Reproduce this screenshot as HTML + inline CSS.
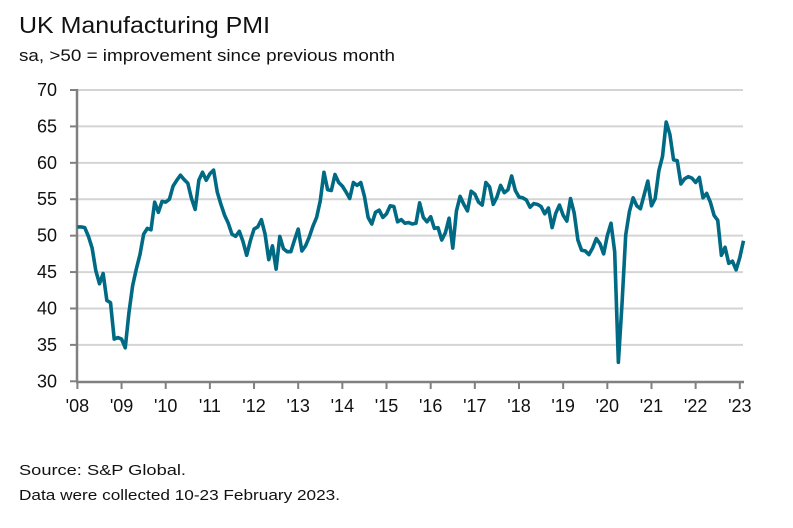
<!DOCTYPE html>
<html><head><meta charset="utf-8"><style>
body{margin:0;background:#fff;font-family:"Liberation Sans",sans-serif;}
</style></head><body>
<svg width="793" height="523" xmlns="http://www.w3.org/2000/svg">
<text x="19" y="33" font-size="23" textLength="251" lengthAdjust="spacingAndGlyphs" fill="#111" font-family="Liberation Sans, sans-serif">UK Manufacturing PMI</text>
<text x="19" y="61" font-size="17" textLength="376" lengthAdjust="spacingAndGlyphs" fill="#111" font-family="Liberation Sans, sans-serif">sa, &gt;50 = improvement since previous month</text>
<g id="grid"></g>
<g id="axes"></g>
<path id="line" fill="none" stroke="#006a85" stroke-width="3.6" stroke-linejoin="round"/>
<text x="19" y="475" font-size="15" textLength="167" lengthAdjust="spacingAndGlyphs" fill="#111" font-family="Liberation Sans, sans-serif">Source: S&amp;P Global.</text>
<text x="19" y="500" font-size="15" textLength="321" lengthAdjust="spacingAndGlyphs" fill="#111" font-family="Liberation Sans, sans-serif">Data were collected 10-23 February 2023.</text>
</svg>
<script>
const yTicks=[30,35,40,45,50,55,60,65,70];
const xLabels=["'08","'09","'10","'11","'12","'13","'14","'15","'16","'17","'18","'19","'20","'21","'22","'23"];
const startYear=2008;
const pmi2008=[51.2,51.2,51.1,49.9,48.3,45.2,43.4,44.8,41.1,40.8,35.8,36.0];
const pmi2009=[35.8,34.6,39.4,43.1,45.4,47.4,50.2,51.0,50.8,54.6,53.2,54.7];
const pmi2010=[54.6,55.0,56.8,57.6,58.3,57.7,57.2,55.1,53.6,57.6,58.7,57.6];
const pmi2011=[58.5,59.0,56.0,54.3,52.8,51.7,50.2,49.9,50.6,49.2,47.3,49.3];
const pmi2012=[50.9,51.2,52.2,50.2,46.7,48.6,45.4,49.9,48.2,47.8,47.8,49.4];
const pmi2013=[50.9,47.9,48.6,49.8,51.3,52.5,54.8,58.7,56.3,56.2,58.4,57.3];
const pmi2014=[56.8,56.0,55.1,57.3,56.9,57.3,55.4,52.5,51.6,53.2,53.5,52.5];
const pmi2015=[53.0,54.1,54.0,51.9,52.2,51.7,51.8,51.6,51.7,54.5,52.5,51.9];
const pmi2016=[52.6,51.0,51.1,49.4,50.4,52.4,48.3,53.4,55.4,54.3,53.4,56.1];
const pmi2017=[55.7,54.6,54.2,57.3,56.7,54.3,55.3,56.9,55.9,56.3,58.2,56.2];
const pmi2018=[55.3,55.2,54.9,53.9,54.4,54.3,54.0,53.0,53.8,51.1,53.1,54.2];
const pmi2019=[52.8,52.0,55.1,53.1,49.4,48.0,47.9,47.4,48.3,49.6,48.9,47.5];
const pmi2020=[50.0,51.7,47.8,32.6,40.7,50.1,53.3,55.2,54.1,53.7,55.6,57.5];
const pmi2021=[54.1,55.1,58.9,60.9,65.6,63.9,60.4,60.3,57.1,57.8,58.1,57.9];
const pmi2022=[57.3,58.0,55.2,55.8,54.6,52.8,52.1,47.3,48.4,46.2,46.5,45.3];
const pmi2023=[47.0,49.3];
const values=[].concat(pmi2008,pmi2009,pmi2010,pmi2011,pmi2012,pmi2013,pmi2014,pmi2015,pmi2016,pmi2017,pmi2018,pmi2019,pmi2020,pmi2021,pmi2022,pmi2023);
const NS="http://www.w3.org/2000/svg";
const x0=77.4,yearW=44.16,yTop=90,yBot=381.3;
function xs(i){return x0+i*yearW/12;}
function ys(v){return yBot-(v-30)/(70-30)*(yBot-yTop);}
function mk(tag,attrs,parent){const e=document.createElementNS(NS,tag);for(const k in attrs)e.setAttribute(k,attrs[k]);parent.appendChild(e);return e;}
const grid=document.getElementById('grid'),axes=document.getElementById('axes');
yTicks.forEach(t=>{
  if(t>30){const g=mk('line',{x1:77,x2:743,y1:ys(t),y2:ys(t),stroke:'#d4d4d4','stroke-width':2},grid);
  
  }
  const tk=mk('line',{x1:70,x2:77,y1:ys(t),y2:ys(t),stroke:'#808080','stroke-width':2},axes);
  
  
  const tx=mk('text',{x:57,y:ys(t)+6,'text-anchor':'end','font-size':18,fill:'#111','font-family':'Liberation Sans, sans-serif'},axes);
  tx.textContent=t;
  
  
});
const ya=mk('line',{x1:77,x2:77,y1:89,y2:382,stroke:'#808080','stroke-width':2.5},axes);


const xa=mk('line',{x1:76,x2:744,y1:382,y2:382,stroke:'#808080','stroke-width':2.5},axes);


xLabels.forEach((l,i)=>{
  const x=xs(i*12);
  const tk=mk('line',{x1:x,x2:x,y1:382,y2:389,stroke:'#808080','stroke-width':2},axes);
  
  
  const tx=mk('text',{x:x,y:412,'text-anchor':'middle','font-size':18,fill:'#111','font-family':'Liberation Sans, sans-serif'},axes);
  tx.textContent=l;
  
  
});
document.getElementById('line').setAttribute('d',values.map((v,i)=>(i?'L':'M')+xs(i).toFixed(2)+','+ys(v).toFixed(2)).join(''));
</script>
</body></html>
